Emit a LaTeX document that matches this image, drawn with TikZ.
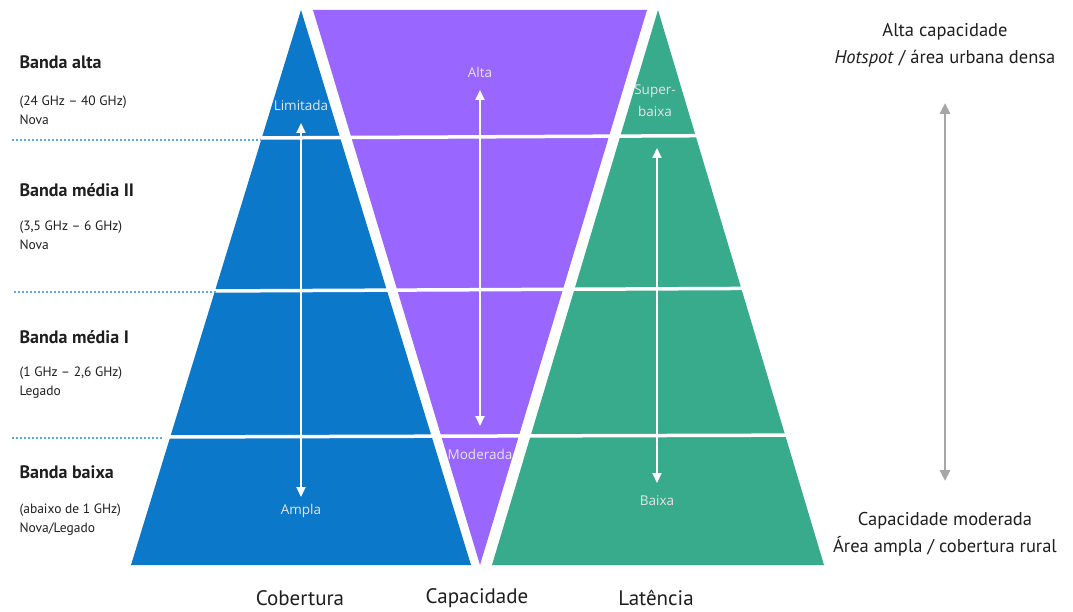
\documentclass[tikz,border=0pt]{standalone}
\usepackage{fontspec}
\setmainfont{PT Sans}
\newfontfamily\lblfont{Open Sans}
\usetikzlibrary{arrows.meta}
\definecolor{cobblue}{HTML}{0B78CA}
\definecolor{cappurple}{HTML}{9966FF}
\definecolor{latgreen}{HTML}{37AB8B}
\definecolor{txtgray}{HTML}{1E1E1E}
\definecolor{dotblue}{HTML}{5AAAE8}
\definecolor{axisgray}{HTML}{A6A6A6}

\begin{document}
\begin{tikzpicture}[x=1pt,y=-1pt,
  band/.style={anchor=west,text=txtgray,font=\bfseries\fontsize{18}{20}\selectfont},
  freq/.style={anchor=west,text=txtgray,align=left,font=\fontsize{13.5}{19}\selectfont},
  inlbl/.style={text=white!90!black,align=center,font=\lblfont\fontsize{13.5}{22}\selectfont},
  side/.style={text=txtgray,align=center,font=\fontsize{18.5}{27}\selectfont},
  axis/.style={text=txtgray,font=\fontsize{21}{24}\selectfont},
  sep/.style={white,line width=3.5pt},
  guide/.style={dotblue,line width=2.6pt,dash pattern=on 2.4pt off 1.6pt},
  vert/.style={white,line width=2pt,{Triangle[width=9pt,length=10pt]}-{Triangle[width=9pt,length=10pt]}},
  scale arrow/.style={axisgray,line width=2.6pt,{Triangle[width=10pt,length=11pt]}-{Triangle[width=10pt,length=11pt]}}]
\useasboundingbox (0,0) rectangle (1073,612);

\fill[cobblue] (301,10) -- (471,565) -- (131,565) -- cycle;
\fill[cappurple] (313,10) -- (647,10) -- (480,565) -- cycle;
\fill[latgreen] (658,10) -- (824,565) -- (492,565) -- cycle;

\draw[sep] (255,138) -- (835,135);
\draw[sep] (208,291) -- (835,288);
\draw[sep] (160,437) -- (835,435);

\draw[guide] (12,140) -- (261,140);
\draw[guide] (14,292) -- (216,292);
\draw[guide] (12,438) -- (162,438);

\node[band] (alta) at (16,62) {Banda alta};
\node[freq] (altaf) at (16,110) {(24 GHz – 40 GHz)\\Nova};
\node[band] (media2) at (16,190) {Banda média II};
\node[freq] (media2f) at (16,235) {(3,5 GHz – 6 GHz)\\Nova};
\node[band] (media1) at (16,337) {Banda média I};
\node[freq] (media1f) at (16,383) {(1 GHz – 2,6 GHz)\\Legado};
\node[band] (baixa) at (16,472) {Banda baixa};
\node[freq] (baixaf) at (16,520) {(abaixo de 1 GHz)\\Nova/Legado};

\node[inlbl] (limitada) at (301,105) {Limitada};
\node[inlbl] (ampla) at (301,511) {Ampla};
\node[inlbl] (altacap) at (480,72) {Alta};
\node[inlbl] (moderada) at (480,454) {Moderada};
\node[inlbl] (superbaixa) at (655,101) {Super-\\baixa};
\node[inlbl] (baixalat) at (657,501) {Baixa};

\coordinate (cobtop) at (301,123);
\coordinate (cobbot) at (301,497);
\coordinate (captop) at (480,90);
\coordinate (capbot) at (480,426);
\coordinate (lattop) at (657,148);
\coordinate (latbot) at (657,483);
\draw[vert] (cobtop) -- (cobbot);
\draw[vert] (captop) -- (capbot);
\draw[vert] (lattop) -- (latbot);

\node[side] (alto) at (945,45) {Alta capacidade\\\textit{Hotspot} / área urbana densa};
\node[side] (baixo) at (945,534) {Capacidade moderada\\Área ampla / cobertura rural};
\coordinate (scaletop) at (945,103);
\coordinate (scalebot) at (945,481);
\draw[scale arrow] (scaletop) -- (scalebot);

\node[axis] (cobertura) at (300,598) {Cobertura};
\node[axis] (capacidade) at (477,598) {Capacidade};
\node[axis] (latencia) at (656,598) {Latência};
\end{tikzpicture}
\end{document}
